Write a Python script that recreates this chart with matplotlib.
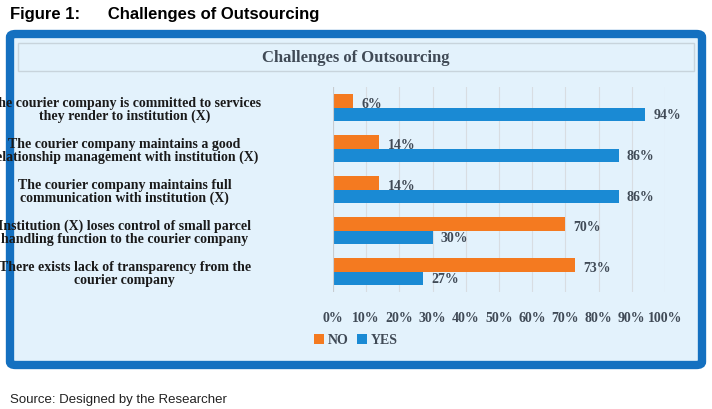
import matplotlib
matplotlib.use("Agg")
import matplotlib.pyplot as plt
from matplotlib.patches import FancyBboxPatch, Rectangle

categories = ["The courier company is committed to services\nthey render to institution (X)",
              "The courier company maintains a good\nrelationship management with institution (X)",
              "The courier company maintains full\ncommunication with institution (X)",
              "Institution (X) loses control of small parcel\nhandling function to the courier company",
              "There exists lack of transparency from the\ncourier company"]
no_vals = [6, 14, 14, 70, 73]
yes_vals = [94, 86, 86, 30, 27]
ticks = list(range(0, 101, 10))

W, H = 712, 410
fig = plt.figure(figsize=(7.12, 4.10), dpi=100)
fig.patch.set_facecolor("white")
def fx(x): return x / W
def fy(y): return 1 - y / H

frame = FancyBboxPatch((fx(10), fy(366)), fx(692), 331 / H,
                       boxstyle="round,pad=0,rounding_size=0.008", transform=fig.transFigure,
                       facecolor="#e3f2fc", edgecolor="#1470c0", linewidth=6, zorder=-5)
fig.patches.append(frame)
fig.patches.append(Rectangle((fx(18), fy(72)), fx(676), 28 / H, transform=fig.transFigure,
                             facecolor="#e3f2fc", edgecolor="#c8d4dc", linewidth=1, zorder=-4))
fig.text(fx(356), fy(58), "Challenges of Outsourcing", ha="center", va="center",
         fontsize=12, fontweight="bold", family="Liberation Serif", color="#404a56")
fig.text(fx(10), fy(14), "Figure 1:      Challenges of Outsourcing", ha="left", va="center",
         fontsize=12, fontweight="bold", family="Liberation Sans", color="black")
fig.text(fx(10), fy(400), "Source: Designed by the Researcher", ha="left", va="center",
         fontsize=9.5, family="Liberation Sans", color="#222222")

ax = fig.add_axes([fx(333), fy(293), fx(332), (293 - 88) / H])
ax.set_facecolor("none")
ax.set_zorder(2)
n = len(categories)
ys = list(range(n))
h = 0.34
ax.barh([y - h / 2 for y in ys], no_vals, height=h, color="#f47a20", label="NO")
ax.barh([y + h / 2 for y in ys], yes_vals, height=h, color="#1a8ad4", label="YES")
for y, v in zip(ys, no_vals):
    ax.text(v + 2.5, y - h / 2 + 0.08, f"{v}%", va="center", ha="left", fontsize=10,
            fontweight="bold", family="Liberation Serif", color="#404a56")
for y, v in zip(ys, yes_vals):
    ax.text(v + 2.5, y + h / 2, f"{v}%", va="center", ha="left", fontsize=10,
            fontweight="bold", family="Liberation Serif", color="#404a56")
ax.set_ylim(n - 0.5, -0.5)
ax.set_xlim(0, 100)
ax.set_xticks(ticks)
ax.set_xticklabels([f"{t}%" for t in ticks], fontsize=10, fontweight="bold",
                   family="Liberation Serif", color="#404a56")
ax.set_yticks(ys)
ax.set_yticklabels(categories, fontsize=10, fontweight="bold", family="Liberation Serif",
                   color="#1a1a1a", linespacing=1.0, ha="center")
ax.tick_params(axis="y", length=0, pad=150)
ax.tick_params(axis="x", length=0, pad=14)
ax.grid(axis="x", color="#d8dde2", linewidth=0.8)
ax.set_axisbelow(True)
for s in ax.spines.values():
    s.set_visible(False)
ax.axvline(0, color="#c8ccd0", linewidth=0.8)

leg = fig.legend(loc="center", bbox_to_anchor=(fx(356), fy(341)), ncol=2, frameon=False,
                 prop={"family": "Liberation Serif", "weight": "bold", "size": 10},
                 handlelength=0.7, handleheight=0.7, columnspacing=0.6, handletextpad=0.3)
for t in leg.get_texts():
    t.set_color("#404a56")
fig.savefig("out.png", dpi=100)
